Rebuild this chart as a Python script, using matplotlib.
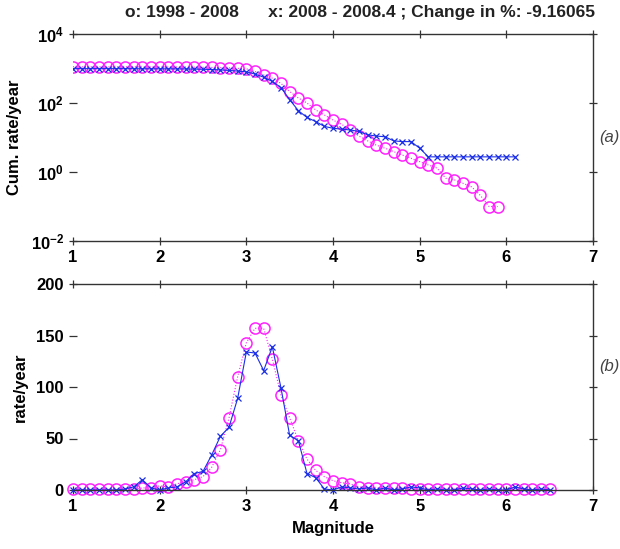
import numpy as np
import matplotlib
matplotlib.use("Agg")
import matplotlib.pyplot as plt
from matplotlib.ticker import FixedLocator, FixedFormatter

plt.rcParams['font.family'] = ['Liberation Sans', 'DejaVu Sans']
plt.rcParams['mathtext.fontset'] = 'custom'
plt.rcParams['mathtext.rm'] = 'Liberation Sans'
plt.rcParams['mathtext.bf'] = 'Liberation Sans:bold'
plt.rcParams['mathtext.it'] = 'Liberation Sans:italic'

# ---------------- data ----------------
title_text = "o: 1998 - 2008      x: 2008 - 2008.4 ; Change in %: -9.16065"

# (a) cumulative rate/year
mag_cum_o = np.round(np.arange(1.0, 5.95, 0.1), 1)
cum_o = [1120, 1120, 1120, 1120, 1120, 1120, 1120, 1118, 1116, 1114,
         1112, 1110, 1106, 1100, 1094, 1085, 1075, 1060, 1040, 1010,
         980, 820, 650, 525, 370, 215, 140, 100, 63, 45,
         32, 24, 17, 11, 8, 6, 4.9, 3.9, 3.1, 2.5,
         2.0, 1.6, 1.3, 0.66, 0.59, 0.47, 0.37, 0.21, 0.1, 0.1]

mag_cum_x = np.round(np.arange(1.0, 6.15, 0.1), 1)
cum_x = [990, 990, 990, 990, 989, 988, 987, 985, 980, 978,
         978, 976, 974, 970, 962, 950, 935, 910, 880, 840,
         800, 690, 560, 420, 280, 125, 60, 38, 29, 21,
         18.5, 17.5, 16.5, 15, 12, 11, 10.5, 8, 7.6, 7.6,
         4.9, 2.75, 2.75, 2.75, 2.75, 2.75, 2.75, 2.75, 2.75, 2.75,
         2.75, 2.75]

# (b) non-cumulative rate/year
mag_rate = np.round(np.arange(1.0, 6.55, 0.1), 1)
rate_o = [0.5, 0.5, 0.5, 0.5, 0.5, 0.5, 0.5, 0.5, 2, 2,
          4, 3, 6, 8, 10, 13, 22, 39, 70, 110,
          143, 157, 157, 127, 92, 70, 48, 30, 19, 13,
          9, 7, 6, 3, 2, 2, 2, 1.5, 2, 1,
          1, 1, 1, 1, 1, 0.5, 1, 0.5, 1, 0.5,
          1, 0.5, 1, 0.5, 0.5, 0.5]
rate_x = [0, 0, 0, 0, 0, 0, 1, 3, 10, 2,
          0, 2, 3, 8, 16, 18, 34, 52, 61, 89,
          134, 133, 116, 139, 99, 53, 48, 16, 12, 1,
          0, 3, 2, 1, 2, 0, 2, 0, 1, 3,
          2, 0, 1, 0, 0, 2, 1, 0, 1, 0,
          0, 3, 1, 0, 1, 0]

xticks = [1, 2, 3, 4, 5, 6, 7]
yticks_a = [1e-2, 1e0, 1e2, 1e4]
ytick_labels_a = [r"$\mathbf{10^{-2}}$", r"$\mathbf{10^{0}}$", r"$\mathbf{10^{2}}$", r"$\mathbf{10^{4}}$"]
yticks_b = [0, 50, 100, 150, 200]

# ---------------- figure ----------------
W, H = 620, 549
fig = plt.figure(figsize=(W / 100, H / 100), dpi=100)
ax1 = fig.add_axes([73 / W, 1 - 241 / H, 520 / W, 207 / H])
ax2 = fig.add_axes([73 / W, 1 - 490 / H, 520 / W, 206 / H])

mag_col = '#ff22ff'
blue_col = '#1a2ee8'

for ax in (ax1, ax2):
    ax.set_xlim(1, 7)
    ax.xaxis.set_major_locator(FixedLocator(xticks))
    ax.tick_params(axis='both', which='both', direction='inout', length=6,
                   width=0.9, top=True, right=True, labelsize=12, color='#333333')
    ax.spines['left'].set_visible(False)
    for s in ('top', 'bottom', 'right'):
        ax.spines[s].set_color('#333333')
        ax.spines[s].set_linewidth(1.0)
    ax.set_facecolor('white')

# (a)
ax1.set_yscale('log')
ax1.set_ylim(1e-2, 1e4)
ax1.plot(mag_cum_o, cum_o, linestyle=':', color=mag_col, lw=0.8,
         marker='o', markersize=8, markerfacecolor='none', markeredgecolor=mag_col,
         markeredgewidth=1.1)
ax1.plot(mag_cum_x, cum_x, linestyle='-', color=blue_col, lw=0.8,
         marker='x', markersize=5, markeredgewidth=0.9)
ax1.yaxis.set_major_locator(FixedLocator(yticks_a))
ax1.yaxis.set_major_formatter(FixedFormatter(ytick_labels_a))
ax1.yaxis.set_minor_locator(FixedLocator([]))
ax1.set_ylabel("Cum. rate/year", fontsize=12, fontweight='bold', labelpad=6)
ax1.text(1.012, 0.5, "(a)", transform=ax1.transAxes, fontsize=12,
         style='italic', color='#444444', va='center', ha='left')

# (b)
ax2.set_ylim(0, 200)
ax2.plot(mag_rate, rate_o, linestyle=':', color=mag_col, lw=0.8,
         marker='o', markersize=8, markerfacecolor='none', markeredgecolor=mag_col,
         markeredgewidth=1.1, clip_on=False)
ax2.plot(mag_rate, rate_x, linestyle='-', color=blue_col, lw=0.8,
         marker='x', markersize=5, markeredgewidth=0.9, clip_on=False)
ax2.yaxis.set_major_locator(FixedLocator(yticks_b))
ax2.set_ylabel("rate/year", fontsize=12, fontweight='bold', labelpad=6)
ax2.set_xlabel("Magnitude", fontsize=12, fontweight='bold', labelpad=5)
ax2.text(1.012, 0.6, "(b)", transform=ax2.transAxes, fontsize=12,
         style='italic', color='#444444', va='center', ha='left')

for ax in (ax1, ax2):
    for lab in ax.get_xticklabels() + ax.get_yticklabels():
        lab.set_fontweight('bold')

fig.text(360 / W, 1 - 12 / H, title_text, fontsize=12.5, fontweight='bold',
         ha='center', va='center', color='#222222')

fig.savefig("out.png", dpi=100, facecolor='white')
